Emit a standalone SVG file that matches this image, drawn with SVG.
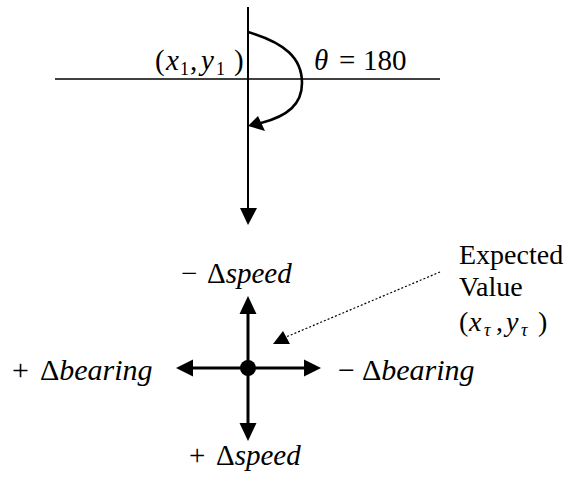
<svg xmlns="http://www.w3.org/2000/svg" width="568" height="483" viewBox="0 0 568 483">
<style>
.t{font-family:"Liberation Serif","Times New Roman",serif;font-size:29px;fill:#000}
.b{font-size:30px}
.e{font-size:28px}
.i{font-style:italic}
.s{font-size:18px}
.ln{stroke:#000;fill:none}
.ah{fill:#000;stroke:none}
</style>
<rect width="568" height="483" fill="#fff"/>
<g id="connectors">
  <line class="ln" x1="55" y1="79" x2="440" y2="79" stroke-width="1.6"/>
  <line class="ln" x1="248" y1="7" x2="248" y2="212" stroke-width="2"/>
  <polygon class="ah" points="240,208 257,208 248,225"/>
  <path class="ln" d="M248,32 C285,43 302,58 302,83 C302,104 288,116 261,123" stroke-width="2.6"/>
  <polygon class="ah" points="248,126 258,116 265,131"/>
  <line class="ln" x1="440" y1="272" x2="286" y2="337" stroke-width="1.2" stroke-dasharray="2,2"/>
  <polygon class="ah" points="273,344 283,331 290,344"/>
  <line class="ln" x1="248" y1="305" x2="248" y2="432" stroke-width="3"/>
  <line class="ln" x1="185" y1="368" x2="312" y2="368" stroke-width="3"/>
  <polygon class="ah" points="248,296 239.5,314 256.5,314"/>
  <polygon class="ah" points="248,441 239.5,423 256.5,423"/>
  <polygon class="ah" points="176,368 193,359.5 193,376.5"/>
  <polygon class="ah" points="321,368 304,359.5 304,376.5"/>
</g>
<g id="origin">
  <circle cx="248" cy="368" r="8" fill="#000"/>
</g>
<g id="label-start">
  <text class="t" y="70"><tspan x="155">(</tspan><tspan class="i" x="166">x</tspan><tspan class="s" x="180" dy="5">1</tspan><tspan x="190" dy="-5">,</tspan><tspan class="i" x="201">y</tspan><tspan class="s" x="216" dy="5">1</tspan><tspan x="234" dy="-5">)</tspan></text>
</g>
<g id="label-theta">
  <text class="t" y="70"><tspan class="i" x="314">θ</tspan><tspan x="339">=</tspan><tspan x="363">180</tspan></text>
</g>
<g id="label-minus-speed">
  <text class="t" y="283"><tspan x="181">−</tspan><tspan x="207">Δ</tspan><tspan class="i">speed</tspan></text>
</g>
<g id="label-plus-speed">
  <text class="t" y="465"><tspan x="189">+</tspan><tspan x="216">Δ</tspan><tspan class="i">speed</tspan></text>
</g>
<g id="label-plus-bearing">
  <text class="t b" y="380"><tspan x="12">+</tspan><tspan x="40">Δ</tspan><tspan class="i">bearing</tspan></text>
</g>
<g id="label-minus-bearing">
  <text class="t b" y="380"><tspan x="338">−</tspan><tspan x="362">Δ</tspan><tspan class="i">bearing</tspan></text>
</g>
<g id="label-expected">
  <text class="t e" x="459" y="264">Expected</text>
  <text class="t e" x="459" y="296">Value</text>
  <text class="t e" y="331"><tspan x="459">(</tspan><tspan class="i" x="469">x</tspan><tspan class="i s" x="484" dy="5">τ</tspan><tspan x="496" dy="-5">,</tspan><tspan class="i" x="506">y</tspan><tspan class="i s" x="521" dy="5">τ</tspan><tspan x="538" dy="-5">)</tspan></text>
</g>
</svg>
